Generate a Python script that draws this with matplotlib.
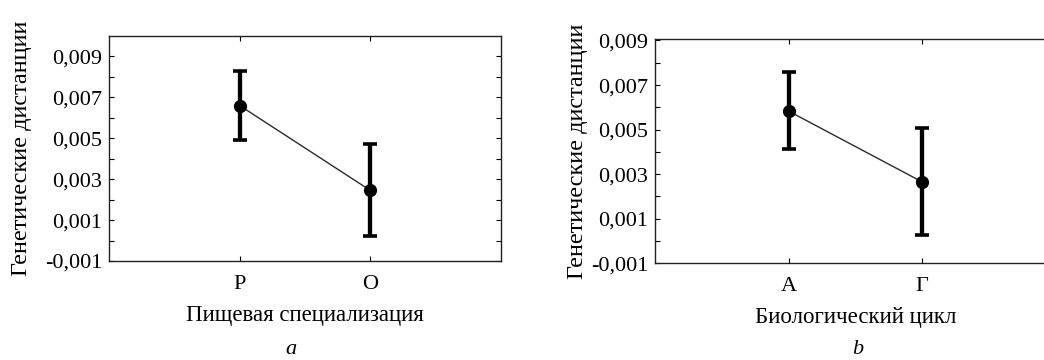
import matplotlib
matplotlib.use("Agg")
import matplotlib.pyplot as plt
from matplotlib.ticker import FixedLocator, FuncFormatter

# Data
cats_a = ["Р", "О"]
mean_a = [0.0066, 0.00245]
upper_a = [0.0083, 0.00474]
lower_a = [0.0049, 0.00022]

cats_b = ["А", "Г"]
mean_b = [0.00583, 0.00265]
upper_b = [0.00759, 0.00508]
lower_b = [0.00414, 0.00026]

ylabel = "Генетические дистанции"
xlabel_a = "Пищевая специализация"
xlabel_b = "Биологический цикл"

plt.rcParams['font.family'] = ['Liberation Serif', 'DejaVu Serif']

fig = plt.figure(figsize=(10.44, 3.6), dpi=100)

def fmt(v, pos):
    return f"{v:.3f}".replace(".", ",")

def panel(rect, cats, mean, upper, lower, xlabel, ytop, letter, letter_x, ylpad):
    ax = fig.add_axes(rect)
    x = list(range(1, len(cats) + 1))
    yerr = [[m - l for m, l in zip(mean, lower)], [u - m for m, u in zip(mean, upper)]]
    ax.plot(x, mean, color="#2a2a2a", lw=1.0, zorder=2)
    ax.errorbar(x, mean, yerr=yerr, fmt="o", color="black", ms=8.5,
                elinewidth=3.1, capsize=4.8, capthick=2.6, zorder=3)
    ax.set_xlim(0, len(cats) + 1)
    ax.set_ylim(-0.001, ytop)
    ax.xaxis.set_major_locator(FixedLocator(x))
    ax.set_xticklabels(cats)
    ax.yaxis.set_major_locator(FixedLocator([-0.001, 0.001, 0.003, 0.005, 0.007, 0.009]))
    ax.yaxis.set_minor_locator(FixedLocator([0.0, 0.002, 0.004, 0.006, 0.008]))
    ax.yaxis.set_major_formatter(FuncFormatter(fmt))
    ax.tick_params(axis="both", which="both", direction="in", length=3.5, width=0.8,
                   top=True, right=True, labelsize=16, colors="black")
    ax.tick_params(axis="x", pad=10)
    ax.tick_params(axis="y", pad=5)
    for sp in ax.spines.values():
        sp.set_linewidth(1.0)
        sp.set_color("#222222")
    ax.set_xlabel(xlabel, fontsize=16.5, labelpad=8)
    ax.set_ylabel(ylabel, fontsize=17.5, labelpad=ylpad)
    fig.text(letter_x, 0.028, letter, fontsize=16, style="italic", ha="center", va="center")
    return ax

panel([0.1044, 0.275, 0.3755, 0.625], cats_a, mean_a, upper_a, lower_a, xlabel_a, 0.010, "a", 0.279, 9)
panel([0.6274, 0.2686, 0.384, 0.622], cats_b, mean_b, upper_b, lower_b, xlabel_b, 0.00905, "b", 0.822, 2)

fig.savefig("out.png", dpi=100)
